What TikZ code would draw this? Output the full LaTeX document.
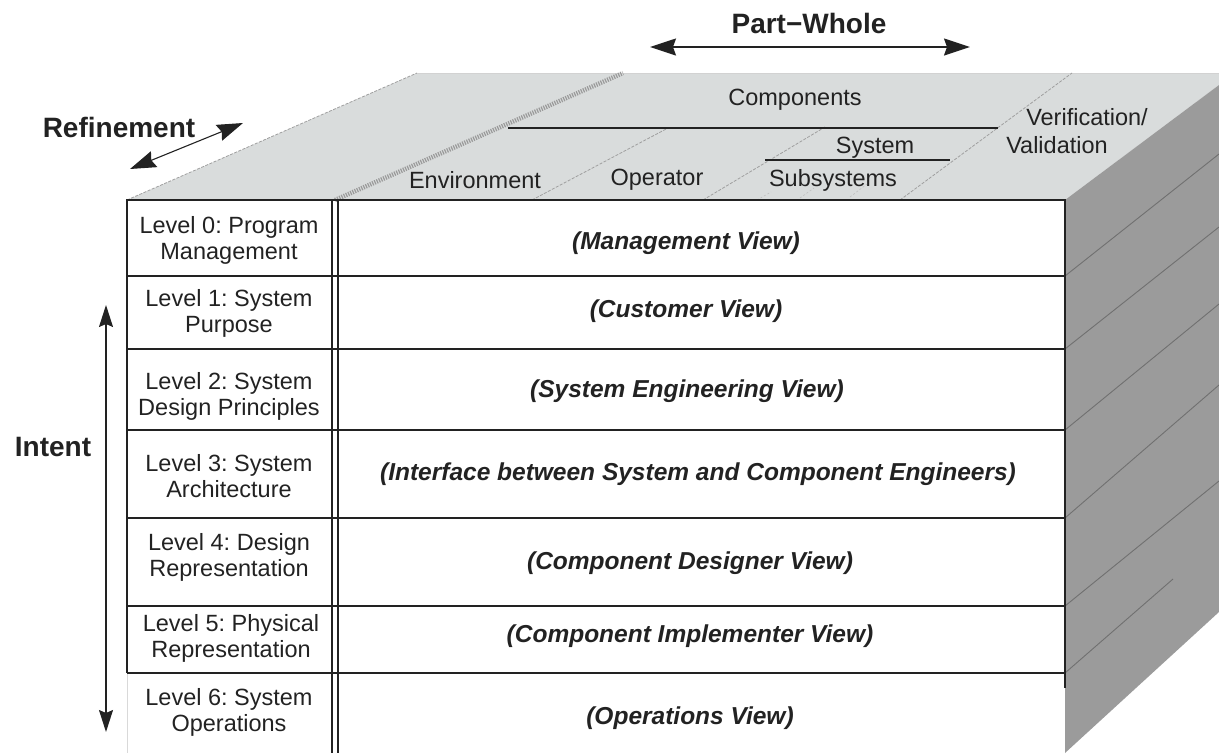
\documentclass[tikz,border=0pt]{standalone}
\usepackage{fontspec}
\setmainfont{Liberation Sans}
\usetikzlibrary{arrows.meta}
\definecolor{topgray}{HTML}{D9DCDC}
\definecolor{sidegray}{HTML}{9B9B9B}
\definecolor{sideline}{HTML}{707070}
\definecolor{hatchgray}{HTML}{9A9A9A}
\definecolor{ink}{HTML}{222222}
\frenchspacing
\begin{document}
\begin{tikzpicture}[x=1pt,y=-1pt,
  lvl/.style={align=center, font=\fontsize{23.5}{26}\selectfont, inner sep=0pt, text=ink},
  view/.style={font=\fontsize{24.5}{27}\selectfont\bfseries\itshape, inner sep=0pt, text=ink},
  facelabel/.style={font=\fontsize{23.5}{26}\selectfont, inner sep=0pt, text=ink},
  axislabel/.style={font=\fontsize{28}{32}\selectfont\bfseries, inner sep=0pt, text=ink},
  gridline/.style={draw=ink, line width=1.6pt},
  dimarrow/.style={draw=ink, line width=1.4pt, {Stealth[length=26pt,width=17pt,inset=3pt]}-{Stealth[length=26pt,width=17pt,inset=3pt]}},
  facedash/.style={draw=gray!75, line width=0.8pt, dash pattern=on 3pt off 1.5pt},
  sidestroke/.style={draw=sideline, line width=0.9pt}]

\useasboundingbox (0,0) rectangle (1219,753);

% top face
\fill[topgray] (127,200) -- (417,73) -- (1219,73) -- (1219,85) -- (1065,200) -- cycle;
\draw[facedash] (127,200) -- (417,73);
\draw[gray!35, line width=0.6pt] (417,73) -- (1219,73);

% right face
\fill[sidegray] (1065,200) -- (1219,85) -- (1219,612) -- (1065,753) -- cycle;
\draw[sidestroke] (1065,276) -- (1219,154);
\draw[sidestroke] (1065,349) -- (1219,227);
\draw[sidestroke] (1065,430) -- (1219,304);
\draw[sidestroke] (1065,518) -- (1219,385);
\draw[sidestroke] (1065,606) -- (1219,481);
\draw[sidestroke] (1065,673) -- (1173,579);

% top face markings
\draw[hatchgray, line width=4.5pt, dash pattern=on 1.2pt off 1.2pt] (335,200) -- (623,73);
\draw[facedash] (532,200) -- (668,128);
\draw[facedash] (703,200) -- (825,127);
\draw[facedash] (900,200) -- (1072,73);
\draw[gray!50, line width=0.6pt, dash pattern=on 2pt off 2pt] (757,200) -- (771,192);
\draw[gray!50, line width=0.6pt, dash pattern=on 2pt off 2pt] (800,198) -- (814,188);
\draw[gray!50, line width=0.6pt, dash pattern=on 2pt off 2pt] (850,197) -- (867,184);
\draw[draw=ink, line width=1.5pt] (508,128) -- (998,128);
\draw[draw=ink, line width=1.5pt] (765,160) -- (950,160);

\node[facelabel] (components) at (795,100) {Components};
\node[facelabel] (system) at (875,148) {System};
\node[facelabel] (environment) at (475,180) {Environment};
\node[facelabel] (operator) at (657,180) {Operator};
\node[facelabel] (subsystems) at (833,180) {Subsystems};
\node[facelabel] (verif) at (1087,117) {Verification/};
\node[facelabel] (valid) at (1057,145) {Validation};

% front table
\draw[gridline] (127,200) -- (1065,200);
\draw[gridline] (1065,199.2) -- (1065,688);
\draw[gridline] (127,199.2) -- (127,673);
\draw[gray!30, line width=1pt] (127,673) -- (127,753);
\draw[draw=ink, line width=1.2pt] (332,200) -- (332,753);
\draw[draw=ink, line width=1.2pt] (338,200) -- (338,753);
\foreach \yy in {276,349,430,518,606,673}
  \draw[gridline] (127,\yy) -- (1065,\yy);

\node[lvl] (l0) at (229,240) {Level 0: Program\\Management};
\node[lvl] (l1) at (229,313) {Level 1: System\\Purpose};
\node[lvl] (l2) at (229,396) {Level 2: System\\Design Principles};
\node[lvl] (l3) at (229,476) {Level 3: System\\Architecture};
\node[lvl] (l4) at (229,557) {Level 4: Design\\Representation};
\node[lvl] (l5) at (231,638) {Level 5: Physical\\Representation};
\node[lvl] (l6) at (229,712) {Level 6: System\\Operations};

\node[view] (v0) at (686,243) {(Management View)};
\node[view] (v1) at (686,311) {(Customer View)};
\node[view] (v2) at (687,391) {(System Engineering View)};
\node[view] (v3) at (698,474) {(Interface between System and Component Engineers)};
\node[view] (v4) at (690,563) {(Component Designer View)};
\node[view] (v5) at (690,636) {(Component Implementer View)};
\node[view] (v6) at (690,718) {(Operations View)};

% axes
\node[axislabel] (pw) at (809,23) {Part−Whole};
\coordinate (pwL) at (650,47);
\coordinate (pwR) at (970,47);
\draw[dimarrow] (pwL) -- (pwR);

\node[axislabel] (refin) at (119,127) {Refinement};
\coordinate (refA) at (130,169);
\coordinate (refB) at (243,123);
\draw[dimarrow, line width=1.1pt] (refA) -- (refB);

\node[axislabel] (intent) at (53,447) {Intent};
\coordinate (intA) at (106,305);
\coordinate (intB) at (106,732);
\draw[dimarrow, {Stealth[length=22pt,width=14pt,inset=3pt]}-{Stealth[length=22pt,width=14pt,inset=3pt]}] (intA) -- (intB);
\end{tikzpicture}
\end{document}
